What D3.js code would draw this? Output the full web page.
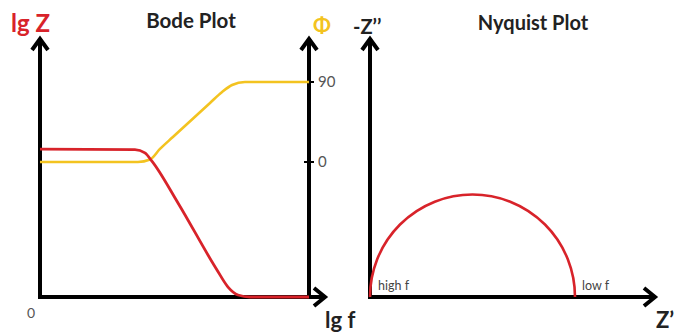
<!DOCTYPE html>
<html>
<head>
<meta charset="utf-8">
<script src="https://cdn.jsdelivr.net/npm/d3@7"></script>
<style>
  body { margin: 0; background: #fff; }
  svg { display: block; }
</style>
</head>
<body>
<svg id="chart" width="675" height="333"></svg>
<script>
// Bode plot: lg f on x, lg Z (left) and phase (right)
const bodeLgfRed = [0, 3.53, 3.9, 4.16, 5.13, 6.58, 6.99, 7.36, 7.81, 10];
const bodeLgZ = [5.8, 5.78, 5.65, 5.33, 3.69, 1.06, 0.39, 0.08, 0, 0];
const bodeLgfPhase = [0, 3.64, 4.09, 4.46, 4.94, 6.32, 6.77, 7.14, 7.62, 10];
const bodePhase = [0, 0, 2.8, 14.7, 28.1, 66.4, 78.75, 86.6, 90, 90];
const phaseTicks = [0, 90];

// Nyquist: semicircle of a parallel RC, R = 1
const nyquistR = 1;
const nyquistLabels = ['high f', 'low f'];

const red = '#d8232a';
const yellow = '#f3c320';
const font = 'Lato, "Open Sans", sans-serif';

const svg = d3.select('#chart');

// ---------- Bode ----------
const bx = d3.scaleLinear().domain([0, 10]).range([40, 309]);
const byZ = d3.scaleLinear().domain([0, 10]).range([297, 42]);
const byP = d3.scaleLinear().domain([0, 90]).range([162, 82]);

function arrowUp(g, x, y0, y1) {
    g.append('line').attr('x1', x).attr('x2', x).attr('y1', y0).attr('y2', y1 + 1);
    g.append('path').attr('d', `M${x - 8},${y1 + 12}L${x},${y1 + 1}L${x + 8},${y1 + 12}`);
}
function arrowRight(g, y, x0, x1) {
    g.append('line').attr('x1', x0).attr('x2', x1 - 1).attr('y1', y).attr('y2', y);
    g.append('path').attr('d', `M${x1 - 12},${y - 9}L${x1 - 1},${y}L${x1 - 12},${y + 9}`);
}

const axes = svg.append('g')
    .attr('stroke', '#000')
    .attr('stroke-width', 4)
    .attr('fill', 'none')
    .attr('stroke-linecap', 'butt')
    .attr('stroke-linejoin', 'miter');

arrowUp(axes, bx(0), 299, 38);
arrowUp(axes, bx(10), 299, 38);
arrowRight(axes, byZ(0), bx(0) - 2, 326);

// phase ticks
const tickG = svg.append('g');
tickG.selectAll('line')
    .data(phaseTicks)
    .join('line')
    .attr('x1', bx(10) - 5)
    .attr('x2', bx(10) + 5)
    .attr('y1', d => byP(d))
    .attr('y2', d => byP(d))
    .attr('stroke', '#000')
    .attr('stroke-width', 2);
tickG.selectAll('text')
    .data(phaseTicks)
    .join('text')
    .attr('x', bx(10) + 9)
    .attr('y', d => byP(d))
    .attr('dy', '0.35em')
    .attr('font-family', font)
    .attr('font-size', 15)
    .attr('fill', '#555')
    .text(d => d);

const lineZ = d3.line()
    .x((d, i) => bx(bodeLgfRed[i]))
    .y(d => byZ(d))
    .curve(d3.curveMonotoneX);
const lineP = d3.line()
    .x((d, i) => bx(bodeLgfPhase[i]))
    .y(d => byP(d))
    .curve(d3.curveMonotoneX);

svg.append('path')
    .attr('d', lineP(bodePhase))
    .attr('fill', 'none')
    .attr('stroke', yellow)
    .attr('stroke-width', 2.6);
svg.append('path')
    .attr('d', lineZ(bodeLgZ))
    .attr('fill', 'none')
    .attr('stroke', red)
    .attr('stroke-width', 2.8);

// Bode labels
svg.append('text').attr('x', 191).attr('y', 28).attr('text-anchor', 'middle')
    .attr('font-family', font).attr('font-weight', 'bold').attr('font-size', 20.5)
    .attr('fill', '#222').text('Bode Plot');
svg.append('text').attr('x', 11).attr('y', 32)
    .attr('font-family', font).attr('font-weight', 'bold').attr('font-size', 24)
    .attr('fill', red).text('lg Z');
svg.append('text').attr('x', 322).attr('y', 33).attr('text-anchor', 'middle')
    .attr('font-family', font).attr('font-weight', 'bold').attr('font-size', 21)
    .attr('fill', yellow).text('Φ');
svg.append('text').attr('x', 31).attr('y', 318).attr('text-anchor', 'middle')
    .attr('font-family', font).attr('font-size', 14)
    .attr('fill', '#555').text('0');
svg.append('text').attr('x', 325).attr('y', 328)
    .attr('font-family', font).attr('font-weight', 'bold').attr('font-size', 22)
    .attr('fill', '#222').text('lg f');

// ---------- Nyquist ----------
const nx = d3.scaleLinear().domain([0, nyquistR]).range([370, 575]);
const ny = d3.scaleLinear().domain([0, nyquistR]).range([297, 297 - (575 - 370)]);

arrowUp(axes, nx(0), 299, 38);
arrowRight(axes, ny(0), nx(0) - 2, 656);

const arc = d3.arc()
    .innerRadius(nx(nyquistR / 2) - nx(0))
    .outerRadius(nx(nyquistR / 2) - nx(0))
    .startAngle(-Math.PI / 2)
    .endAngle(Math.PI / 2);
svg.append('path')
    .attr('transform', `translate(${nx(nyquistR / 2)},${ny(0)})`)
    .attr('d', arc())
    .attr('fill', 'none')
    .attr('stroke', red)
    .attr('stroke-width', 2.6);

svg.selectAll('.nq-label')
    .data(nyquistLabels)
    .join('text')
    .attr('class', 'nq-label')
    .attr('x', (d, i) => i === 0 ? nx(0) + 8 : nx(nyquistR) + 7)
    .attr('y', 290)
    .attr('font-family', font)
    .attr('font-size', 12.5)
    .attr('fill', '#444')
    .text(d => d);

svg.append('text').attr('x', 533).attr('y', 30).attr('text-anchor', 'middle')
    .attr('font-family', font).attr('font-weight', 'bold').attr('font-size', 20)
    .attr('fill', '#222').text('Nyquist Plot');
svg.append('text').attr('x', 353).attr('y', 34)
    .attr('font-family', font).attr('font-weight', 'bold').attr('font-size', 20)
    .attr('fill', '#222').text('-Z\u2019\u2019');
svg.append('text').attr('x', 656).attr('y', 328)
    .attr('font-family', font).attr('font-weight', 'bold').attr('font-size', 22)
    .attr('fill', '#222').text('Z\u2019');
</script>
</body>
</html>
